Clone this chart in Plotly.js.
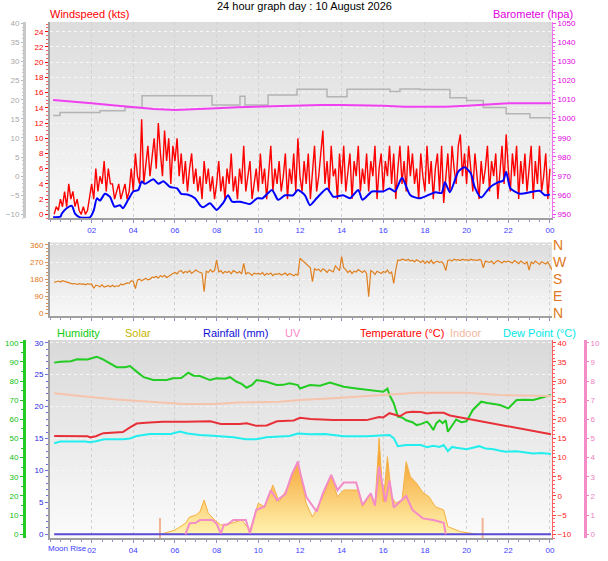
<!DOCTYPE html>
<html>
<head>
<meta charset="utf-8">
<script src="https://cdn.plot.ly/plotly-3.0.1.min.js"></script>
<style>
  html, body { margin: 0; padding: 0; background: #fff; }
  #chart { width: 608px; height: 561px; }
</style>
</head>
<body>
<div id="chart"></div>
<script>
// ---- data (hours since midnight) ----
var hourTicks = [2, 4, 6, 8, 10, 12, 14, 16, 18, 20, 22, 24];
var hourLabels = ['02', '04', '06', '08', '10', '12', '14', '16', '18', '20', '22', '00'];

// gust / wind direction logged every 6 minutes from 00:12
var logStart = 0.2;
var logStep = 0.1;
var gust = [
  0, 1, 0.5, 2, 1, 3, 1, 4,
  2, 3, 1, 2, 0.5, 0, 1, 0, 0.5, 2,
  4, 2, 6, 3, 5, 4, 7, 3, 6, 4,
  4, 2, 3, 4, 2, 3, 4, 2, 3, 6,
  3, 8, 5, 4, 12.5, 4, 7, 9, 5, 8,
  10, 6, 12, 8, 5, 11, 7, 10, 4, 9,
  7, 10, 5, 8, 4, 7, 3, 6, 8, 4,
  6, 3, 5, 2, 7, 4, 6, 3, 5, 2,
  4, 7, 3, 5, 2, 6, 4, 8, 3, 5,
  2, 6, 4, 9, 3, 5, 7, 2, 4, 6,
  3, 8, 4, 6, 2, 5, 9, 3, 6, 4,
  7, 3, 5, 8, 2, 6, 4, 8, 3, 10,
  5, 3, 7, 4, 8, 2, 6, 9, 3, 5,
  8, 11, 4, 7, 3, 9, 5, 6, 2, 8,
  4, 9, 3, 6, 8, 2, 7, 5, 9, 3,
  6, 4, 8, 3, 7, 5, 9, 2, 6, 8,
  3, 7, 5, 9, 4, 8, 2, 6, 9, 4,
  7, 3, 9, 5, 8, 4, 6, 2, 8, 5,
  3, 9, 4, 7, 2, 6, 8, 3, 9, 1.5,
  5, 8, 3, 9, 6, 4, 9, 10.5, 5, 8,
  4, 9, 6, 3, 8, 5, 2, 7, 4, 6,
  9, 3, 7, 5, 8, 2, 6, 9, 4, 10.5,
  6, 3, 8, 5, 9, 2, 7, 4, 8, 3,
  6, 9, 2, 7, 4, 9, 3, 5, 8, 2,
  6
];
var windDir = [
  163, 166, 170, 165, 172, 168, 166, 160,
  158, 155, 157, 152, 156, 154, 155, 150, 156, 153,
  155, 132, 148, 145, 140, 150, 138, 142, 146, 140,
  148, 140, 145, 142, 155, 150, 157, 160, 158, 172,
  168, 130, 176, 180, 172, 178, 185, 176, 180, 190,
  188, 195, 185, 198, 192, 200, 188, 195, 205, 210,
  215, 208, 222, 225, 212, 220, 215, 225, 210, 218,
  228, 220, 215, 212, 114, 222, 215, 230, 218, 225,
  281, 218, 225, 210, 220, 215, 222, 208, 225, 218,
  212, 220, 208, 263, 205, 215, 210, 200, 212, 208,
  210, 205, 215, 200, 210, 205, 212, 198, 208, 205,
  210, 202, 208, 212, 200, 210, 205, 198, 206, 200,
  290, 280, 275, 263, 250, 240, 167, 235, 228, 232,
  220, 235, 228, 215, 230, 222, 218, 250, 240, 225,
  299, 240, 230, 215, 225, 210, 222, 218, 230, 220,
  215, 225, 210, 88, 225, 218, 205, 222, 215, 210,
  220, 215, 228, 210, 218, 158, 230, 281, 278, 285,
  283, 278, 285, 275, 280, 272, 282, 275, 268, 278,
  262, 275, 265, 280, 262, 270, 275, 268, 272, 258,
  225, 278, 282, 275, 285, 280, 283, 278, 285, 280,
  283, 278, 285, 280, 282, 278, 284, 280, 240, 275,
  272, 268, 275, 260, 270, 278, 272, 265, 275, 270,
  275, 272, 265, 278, 270, 262, 275, 268, 260, 272,
  228, 270, 262, 275, 268, 258, 272, 265, 260, 270,
  252, 230
];

var avgTimes = [0.15, 0.5, 0.57, 0.8, 1.05, 1.2, 1.44, 1.92, 2.1, 2.25, 2.4, 2.64, 2.88, 3.1, 3.36, 3.5, 3.75, 4.0, 4.24, 4.4,
  4.56, 4.96, 5.2, 5.44, 5.76, 6.1, 6.3, 6.6, 6.96, 7.2, 7.35, 7.68, 8.0, 8.3, 8.55, 8.74, 9.12, 9.6, 9.94, 10.2,
  10.66, 10.95, 11.28, 11.67, 11.9, 12.24, 12.48, 12.8, 13.3, 13.6, 14.07, 14.4, 14.8, 15.0, 15.46, 16.0, 16.3, 16.56, 16.9, 17.3,
  17.76, 18.5, 18.8, 18.96, 19.2, 19.6, 19.9, 20.2, 20.4, 20.7, 21.1, 21.5, 21.75, 21.9, 22.1, 22.56, 23.04, 23.5, 23.76, 24.0];
var avgSpeed = [-0.4, -0.3, 0.1, 0.8, 1.1, 0.1, -0.4, -0.4, 0.5, 2.1, 1.8, 2.7, 2.3, 1.0, 1.2, 0.8, 1.9, 3.0, 3.2, 4.3,
  4.0, 4.6, 4.0, 4.35, 3.6, 3.4, 2.7, 2.6, 2.1, 1.2, 0.92, 1.45, 0.57, 1.45, 2.5, 1.66, 1.66, 1.35, 2.1, 2.1,
  3.2, 1.9, 2.5, 2.5, 3.2, 2.5, 1.2, 2.1, 3.4, 2.3, 2.5, 2.1, 3.2, 1.9, 3.0, 3.0, 3.4, 3.0, 4.8, 2.5,
  2.1, 2.9, 2.8, 4.2, 2.9, 5.6, 6.2, 5.4, 3.5, 2.2, 3.5, 4.2, 4.4, 5.6, 3.4, 2.7, 2.9, 3.1, 2.5, 2.6];

var baroTimes = [0.15, 1, 2, 3, 4, 5, 6, 7, 8, 9, 10, 11, 12, 13, 14, 15, 16, 17, 18, 19, 20, 21, 21.8, 23, 24.05];
var baro = [1009.8, 1009.2, 1008.1, 1007, 1005.9, 1005.1, 1004.6, 1004.9, 1005.5, 1006, 1006.3, 1006.6, 1006.9,
  1007.1, 1007.1, 1007, 1006.7, 1006.3, 1006.2, 1006.3, 1006.8, 1007.4, 1008, 1008.1, 1008.1];

var prevBaroTimes = [0.15, 0.48, 2.4, 3.6, 4.42, 7.78, 9.12, 9.36, 10.47, 11.86, 13.3, 14.26, 16.32, 16.8, 17.76, 19.2, 20.0, 20.8, 21.9, 23.04, 24.05];
var prevBaro = [1001.6, 1003.2, 1004.2, 1005.8, 1012, 1007.1, 1011.8, 1007.1, 1012.4, 1015.4, 1011.5, 1015.4, 1014.2, 1015.6, 1015.3, 1011, 1009.5, 1005.8, 1002.6, 1000.5, 1000.5];

var humTimes = [0.2, 0.5, 1.0, 1.3, 1.8, 2.24, 2.5, 2.88, 3.2, 3.6, 3.84, 4.16, 4.5, 4.96, 5.6, 5.9, 6.3, 6.64, 6.9, 7.2,
  7.68, 8.0, 8.4, 8.64, 8.96, 9.2, 9.44, 9.7, 9.92, 10.4, 10.88, 11.2, 11.5, 11.9, 12.0, 12.48, 12.96, 13.44, 13.8, 14.1,
  14.7, 15.2, 15.6, 16.0, 16.2, 16.3, 16.5, 16.7, 16.9, 17.1, 17.4, 17.6, 17.8, 18.1, 18.25, 18.4, 18.55, 18.7, 18.85, 19.0,
  19.1, 19.3, 19.5, 19.75, 20.0, 20.3, 20.5, 20.7, 21.0, 21.3, 21.6, 22.0, 22.2, 22.4, 22.8, 23.2, 23.5, 23.8, 24.05];
var humidity = [89.6, 90.1, 90.3, 91.3, 91.2, 92.7, 91.5, 89.2, 87.2, 87.2, 87.8, 84.9, 82, 80.5, 80.5, 81.4, 81.6, 84.3, 82.8, 82.6,
  80.5, 81.4, 81.2, 82, 79.6, 78.5, 76.5, 78, 80.5, 79.6, 77.9, 78, 78.8, 77.9, 76.1, 77.9, 77.5, 79.2, 78.2, 77,
  76.1, 75.3, 75, 74.4, 76, 72.7, 68.4, 61.4, 61, 59.5, 58.5, 57, 57.5, 58.8, 57, 54.4, 58, 59.5, 58, 59.5,
  53.5, 57, 59.9, 58.5, 59, 64.9, 67, 69.2, 68.5, 68, 67.5, 65.7, 68, 70.1, 70.2, 70.1, 71, 71.8, 72.7];

var tempTimes = [0.2, 1.0, 1.8, 1.95, 2.2, 2.56, 3.0, 3.5, 3.84, 4.16, 4.6, 5.1, 5.4, 6.5, 7.4, 7.7, 8.2, 9.1, 9.44, 9.9,
  10.4, 10.9, 11.7, 12.0, 12.5, 13.0, 13.6, 14.4, 15.2, 15.8, 16.0, 16.3, 16.5, 16.8, 17.1, 17.4, 17.8, 18.1, 18.4, 18.9,
  19.2, 19.6, 20.0, 20.8, 21.6, 22.4, 23.2, 24.05];
var temperature = [15.65, 15.6, 15.6, 15.3, 15.6, 16.4, 16.6, 16.7, 17.9, 18.9, 19.1, 19.2, 19.4, 19.4, 19.4, 19.5, 18.8, 18.8, 19, 18.3,
  18.4, 19.5, 19.7, 20.4, 20.1, 19.9, 19.8, 19.8, 19.8, 20.6, 20.5, 21.6, 21.2, 20.8, 21.8, 22, 21.9, 21.5, 21.7, 21.7,
  21, 20.6, 20.2, 19.4, 18.5, 17.9, 17, 16.1];

var dewTimes = [0.2, 0.5, 1.7, 1.9, 2.2, 2.6, 3.5, 3.84, 4.16, 4.8, 5.8, 6.24, 6.6, 7.2, 8.0, 8.8, 9.4, 9.9, 10.4, 11.0,
  11.5, 11.9, 12.5, 13.2, 13.6, 14.1, 15.2, 15.8, 16.3, 16.5, 16.7, 17.1, 17.5, 17.8, 18.1, 18.4, 18.7, 18.9, 19.1, 19.3,
  19.5, 20.0, 20.3, 20.6, 20.9, 21.3, 21.6, 21.9, 22.4, 22.8, 23.2, 23.6, 24.05];
var dewPoint = [13.75, 14.2, 14.2, 14, 14.3, 14.8, 14.8, 15, 15.65, 16.2, 16.2, 16.8, 16.3, 15.9, 15.65, 15.3, 14.8, 14.8, 15.3, 15.4,
  15.65, 16.3, 16.1, 16.2, 16, 15.6, 15.6, 15.8, 15.9, 15.1, 13, 13.3, 13.4, 13.3, 12.7, 13.1, 12.8, 13.3, 11.7, 12.8,
  12.6, 12.2, 12.6, 13, 12.4, 12.2, 11.8, 11.55, 11.7, 11.3, 11.1, 11.2, 10.95];

var indoorTimes = [0.2, 1.0, 1.8, 3.2, 4.8, 6.4, 8.0, 9.0, 11.0, 12.0, 13.6, 15.2, 16.5, 17.6, 19.2, 20.0, 21.6, 23.0, 24.05];
var indoor = [26.8, 26.3, 25.9, 25.2, 24.6, 24.0, 24.0, 24.4, 24.6, 25.05, 25.5, 26.1, 26.6, 26.95, 26.95, 26.95, 26.35, 26.1, 26.1];

var uvTimes = [6.5, 6.7, 7.0, 7.2, 7.8, 8.0, 8.2, 8.35, 8.5, 8.8, 9.4, 9.6, 9.9, 10.3, 10.6, 10.9, 11.3, 11.6, 11.9, 12.0,
  12.3, 12.8, 13.1, 13.5, 13.8, 14.1, 14.7, 15.0, 15.4, 15.6, 15.8, 16.1, 16.3, 16.5, 16.8, 17.1, 17.4, 17.9, 18.4, 18.9, 19.0];
var uv = [0, 0.57, 0.6, 0.75, 0.75, 0.55, 0.05, 0.5, 0.5, 0.75, 0.75, 0.05, 1.27, 1.45, 2.3, 1.78, 2.1, 3.1, 3.8, 3.27,
  1.96, 1.18, 2.14, 3.1, 2.3, 2.7, 2.7, 1.53, 2.14, 1.5, 3.53, 1.7, 2.8, 1.4, 1.7, 2.0, 1.27, 0.83, 0.75, 0.6, 0];

var solarTimes = [0.2, 5.3, 6.0, 6.5, 6.7, 7.0, 7.2, 7.4, 7.6, 7.9, 8.2, 8.7, 9.2, 9.6, 10.0, 10.3, 10.7, 11.0, 11.3, 11.6,
  11.9, 12.0, 12.3, 12.6, 13.1, 13.5, 13.8, 14.1, 14.4, 14.8, 15.0, 15.4, 15.6, 15.8, 16.0, 16.2, 16.4, 16.6, 16.9, 17.1,
  17.3, 17.6, 17.9, 18.2, 18.5, 18.9, 19.1, 19.7, 20.5, 24.05];
var solar = [0, 0, 22, 57, 90, 100, 118, 179, 110, 75, 48, 57, 75, 22, 162, 144, 257, 170, 223, 301,
  370, 310, 162, 90, 196, 301, 196, 231, 231, 231, 144, 213, 150, 501, 170, 405, 196, 162, 180, 379,
  301, 266, 218, 196, 144, 127, 40, 14, 0, 0];

var rainTimes = [0.2, 24.05];
var rainfall = [0, 0];

var sunTimes = [5.28, 20.77];   // sunrise, sunset

// ---- helpers ----
function logTimes(values) {
  return values.map(function (v, i) { return +(logStart + i * logStep).toFixed(2); });
}

function gradient(top, bottom) {
  var svg = '<svg xmlns="http://www.w3.org/2000/svg" width="10" height="100" viewBox="0 0 10 100" preserveAspectRatio="none">' +
    '<defs><linearGradient id="g" x1="0" y1="0" x2="0" y2="1">' +
    '<stop offset="0" stop-color="' + top + '"/><stop offset="1" stop-color="' + bottom + '"/>' +
    '</linearGradient></defs><rect width="10" height="100" fill="url(#g)"/></svg>';
  return 'data:image/svg+xml;utf8,' + encodeURIComponent(svg);
}

var sunX = [], sunY = [];
sunTimes.forEach(function (t) { sunX.push(t, t, null); sunY.push(-20, 85, null); });

// ---- traces ----
var traces = [
  { x: logTimes(gust), y: gust, xaxis: 'x', yaxis: 'y', mode: 'lines', line: { color: '#FF0000', width: 1.4 } },
  { x: avgTimes, y: avgSpeed, xaxis: 'x', yaxis: 'y', mode: 'lines', line: { color: '#0000FF', width: 2, shape: 'spline', smoothing: 0.6 } },
  { x: prevBaroTimes, y: prevBaro, xaxis: 'x', yaxis: 'y3', mode: 'lines', line: { color: '#B4B4B4', width: 1.5, shape: 'hv' } },
  { x: baroTimes, y: baro, xaxis: 'x', yaxis: 'y3', mode: 'lines', line: { color: '#F040F0', width: 2 } },
  { x: [null], y: [null], xaxis: 'x', yaxis: 'y2', mode: 'lines' },

  { x: logTimes(windDir), y: windDir, xaxis: 'x2', yaxis: 'y4', mode: 'lines', line: { color: '#E08020', width: 1.2 } },
  { x: [null], y: [null], xaxis: 'x2', yaxis: 'y5', mode: 'lines' },

  { x: solarTimes, y: solar, xaxis: 'x3', yaxis: 'y6', mode: 'lines', fill: 'tozeroy',
    fillgradient: { type: 'vertical', start: 0, stop: 420, colorscale: [[0, '#FFF3B0'], [1, '#F5A02E']] },
    line: { color: '#F5B040', width: 1 } },
  { x: sunX, y: sunY, xaxis: 'x3', yaxis: 'y6', mode: 'lines', line: { color: '#F2B494', width: 2 } },
  { x: rainTimes, y: rainfall, xaxis: 'x3', yaxis: 'y7', mode: 'lines', line: { color: '#5A4CD8', width: 2 } },
  { x: humTimes, y: humidity, xaxis: 'x3', yaxis: 'y8', mode: 'lines', line: { color: '#22CC22', width: 2 } },
  { x: indoorTimes, y: indoor, xaxis: 'x3', yaxis: 'y9', mode: 'lines', line: { color: '#F6C4AC', width: 2 } },
  { x: tempTimes, y: temperature, xaxis: 'x3', yaxis: 'y9', mode: 'lines', line: { color: '#E83038', width: 2 } },
  { x: dewTimes, y: dewPoint, xaxis: 'x3', yaxis: 'y9', mode: 'lines', line: { color: '#22EEEE', width: 2 } },
  { x: uvTimes, y: uv, xaxis: 'x3', yaxis: 'y10', mode: 'lines', line: { color: '#F48CC8', width: 2 } }
];
traces.forEach(function (t) { t.showlegend = false; t.hoverinfo = 'skip'; });

// ---- layout ----
var xDom = [50 / 608, 552 / 608];
var topDom = [1 - 218.3 / 561, 1 - 21.7 / 561];
var midDom = [1 - 316 / 561, 1 - 242.3 / 561];
var botDom = [1 - 538.3 / 561, 1 - 340 / 561];
var tickFont = function (c) { return { family: 'Liberation Sans, Arial, sans-serif', size: 8, color: c }; };
var frame = '#A0A0A0';

function timeAxis(anchor, labels) {
  return {
    domain: xDom, anchor: anchor, range: [0, 24.1], fixedrange: true,
    tickmode: 'array', tickvals: hourTicks, ticktext: hourLabels, showticklabels: labels,
    tickfont: tickFont('#3C3CFF'), ticks: 'outside', ticklen: 3, tickcolor: '#9090D0',
    minor: { tickmode: 'linear', tick0: 0, dtick: 0.5, ticks: 'outside', ticklen: 2, tickcolor: '#9090D0' },
    showline: true, linecolor: frame, linewidth: 2,
    showgrid: true, gridcolor: '#D2D2D2', griddash: 'dot', zeroline: false
  };
}

function valueAxis(opts) {
  var a = {
    fixedrange: true, zeroline: false, showgrid: false,
    ticks: 'outside', ticklen: 3
  };
  for (var k in opts) a[k] = opts[k];
  return a;
}

function label(text, px, py, color, anchor) {
  return { text: text, x: px / 608, y: 1 - py / 561, xref: 'paper', yref: 'paper',
    xanchor: anchor || 'left', yanchor: 'middle', showarrow: false,
    font: { family: 'Liberation Sans, Arial, sans-serif', size: 11, color: color } };
}

var layout = {
  width: 608, height: 561, autosize: false,
  margin: { l: 0, r: 0, t: 0, b: 0 },
  paper_bgcolor: '#FFFFFF', plot_bgcolor: 'rgba(0,0,0,0)',
  font: { family: 'Liberation Sans, Arial, sans-serif', size: 8 },
  showlegend: false,

  xaxis: timeAxis('y', true),
  xaxis2: timeAxis('y4', false),
  xaxis3: timeAxis('y6', true),

  yaxis: valueAxis({ domain: topDom, anchor: 'x', range: [-0.526, 25.314], tickmode: 'linear', tick0: 0, dtick: 2,
    tickfont: tickFont('#FF0000'), tickcolor: '#FF0000', showline: true, linecolor: frame, linewidth: 2,
    minor: { dtick: 0.5, ticks: 'outside', ticklen: 2, tickcolor: '#FF6060' },
    showgrid: true, gridcolor: '#F7F7F7', griddash: 'dot' }),
  yaxis2: valueAxis({ overlaying: 'y', anchor: 'free', position: 24 / 608, side: 'left', range: [-11.047, 40.419],
    tickmode: 'linear', tick0: 0, dtick: 5, tickfont: tickFont('#A8A8A8'), tickcolor: '#B8B8B8', ticklen: 2,
    showline: true, linecolor: '#C8C8C8', linewidth: 3,
    minor: { dtick: 1, ticks: 'outside', ticklen: 1, tickcolor: '#C8C8C8' } }),
  yaxis3: valueAxis({ overlaying: 'y', anchor: 'x', side: 'right', range: [947.745, 1050.84], tickmode: 'linear', tick0: 950, dtick: 10,
    tickfont: tickFont('#E000E0'), tickcolor: '#F040F0', showline: true, linecolor: '#F070F0', linewidth: 1,
    minor: { dtick: 2, ticks: 'outside', ticklen: 2, tickcolor: '#F070F0' } }),

  yaxis4: valueAxis({ domain: midDom, anchor: 'x2', range: [-14.2, 374.2], tickmode: 'array', tickvals: [0, 90, 180, 270, 360],
    tickfont: tickFont('#E07820'), tickcolor: '#E09050', showline: true, linecolor: frame, linewidth: 2,
    minor: { dtick: 18, ticks: 'outside', ticklen: 2, tickcolor: '#E09050' },
    showgrid: true, gridcolor: '#F8F8F8', griddash: 'dot' }),
  yaxis5: valueAxis({ overlaying: 'y4', anchor: 'x2', side: 'right', range: [-14.2, 374.2], tickmode: 'array',
    tickvals: [0, 90, 180, 270, 360], ticktext: ['N', 'E', 'S', 'W', 'N'], ticks: '',
    tickfont: { family: 'Liberation Sans, Arial, sans-serif', size: 14, color: '#E07820' } }),

  yaxis6: { domain: botDom, anchor: 'x3', range: [-20.9, 1014.1], visible: false, fixedrange: true },
  yaxis7: valueAxis({ overlaying: 'y6', anchor: 'x3', side: 'left', range: [-0.626, 30.423], tickmode: 'linear', tick0: 0, dtick: 5,
    tickfont: tickFont('#2828E0'), tickcolor: '#7070E0', showline: true, linecolor: frame, linewidth: 2,
    minor: { dtick: 1, ticks: 'outside', ticklen: 2, tickcolor: '#7070E0' },
    showgrid: true, gridcolor: '#F6F6F6', griddash: 'dot' }),
  yaxis8: valueAxis({ overlaying: 'y6', anchor: 'free', position: 24 / 608, side: 'left', range: [-2.09, 101.41],
    tickmode: 'linear', tick0: 0, dtick: 10, tickfont: tickFont('#10C010'), tickcolor: '#20C020',
    showline: true, linecolor: '#22CC22', linewidth: 3,
    minor: { dtick: 5, ticks: 'outside', ticklen: 2, tickcolor: '#20C020' } }),
  yaxis9: valueAxis({ overlaying: 'y6', anchor: 'x3', side: 'right', range: [-11.044, 40.705], tickmode: 'linear', tick0: 0, dtick: 5,
    tickfont: tickFont('#FF2020'), tickcolor: '#FF4040', showline: true, linecolor: '#FF6060', linewidth: 1,
    minor: { dtick: 1, ticks: 'outside', ticklen: 2, tickcolor: '#FF6060' } }),
  yaxis10: valueAxis({ overlaying: 'y6', anchor: 'free', position: 585 / 608, side: 'right', range: [-0.209, 10.141],
    tickmode: 'linear', tick0: 0, dtick: 1, tickfont: tickFont('#F080C0'), tickcolor: '#F080C0', ticklen: 2,
    showline: true, linecolor: '#F48CC8', linewidth: 3 }),

  images: [
    { source: gradient('#DCDCDC', '#F9F9F9'), xref: 'paper', yref: 'paper', x: xDom[0], y: topDom[1],
      sizex: xDom[1] - xDom[0], sizey: topDom[1] - topDom[0], sizing: 'stretch', layer: 'below' },
    { source: gradient('#DCDCDC', '#F8F8F8'), xref: 'paper', yref: 'paper', x: xDom[0], y: midDom[1],
      sizex: xDom[1] - xDom[0], sizey: midDom[1] - midDom[0], sizing: 'stretch', layer: 'below' },
    { source: gradient('#D9D9D9', '#FBFBFB'), xref: 'paper', yref: 'paper', x: xDom[0], y: botDom[1],
      sizex: xDom[1] - xDom[0], sizey: botDom[1] - botDom[0], sizing: 'stretch', layer: 'below' }
  ],

  annotations: [
    label('24 hour graph day : 10 August 2026', 304, 6, '#000000', 'center'),
    label('Windspeed (kts)', 48, 14, '#FF0000'),
    label('Barometer (hpa)', 575, 14, '#E000E0', 'right'),
    label('Humidity', 55, 333, '#10CC10'),
    label('Solar', 123, 333, '#C8B400'),
    label('Rainfall (mm)', 201, 333, '#1010D8'),
    label('UV', 283, 333, '#FF88C8'),
    label('Temperature (°C)', 358, 333, '#FF0000'),
    label('Indoor', 448, 333, '#F2B8A0'),
    label('Dew Point (°C)', 501, 333, '#00E6E6'),
    // reference draws this on top of the "02" label; shifted left so both stay readable
    { text: 'Moon Rise', x: 47 / 608, y: 1 - 548 / 561, xref: 'paper', yref: 'paper', xanchor: 'left', yanchor: 'middle',
      showarrow: false, borderpad: 0, font: { family: 'Liberation Sans, Arial, sans-serif', size: 8, color: '#3C3CFF' } }
  ]
};

Plotly.newPlot('chart', traces, layout, { staticPlot: true });
</script>
</body>
</html>
